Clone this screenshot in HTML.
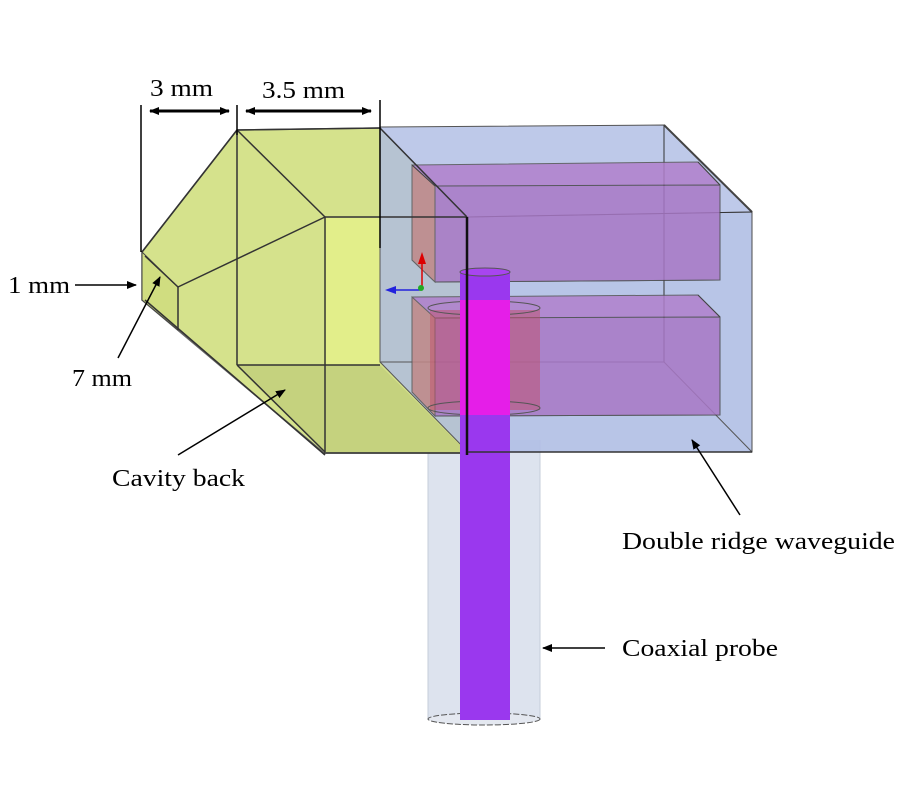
<!DOCTYPE html>
<html><head><meta charset="utf-8"><style>html,body{margin:0;padding:0;background:#fff}svg{display:block}</style></head>
<body>
<svg width="900" height="800" viewBox="0 0 900 800" xmlns="http://www.w3.org/2000/svg" font-family="Liberation Serif, serif" font-size="24">
<defs>
<marker id="ah" markerWidth="10" markerHeight="10" refX="9" refY="5" orient="auto" markerUnits="userSpaceOnUse"><path d="M0,1 L10,5 L0,9 Z" fill="#000"/></marker>
<marker id="ah2" markerWidth="10" markerHeight="10" refX="1" refY="5" orient="auto" markerUnits="userSpaceOnUse"><path d="M10,1 L0,5 L10,9 Z" fill="#000"/></marker>
</defs>
<rect width="900" height="800" fill="#fff"/>
<rect x="428" y="440" width="112" height="280" fill="#dde3ee"/>
<line x1="428" y1="440" x2="428" y2="720" stroke="#c5ccda"/>
<line x1="540" y1="440" x2="540" y2="720" stroke="#c5ccda"/>
<ellipse cx="484" cy="719" rx="56" ry="6" fill="#e4e8f0" stroke="#555" stroke-dasharray="6,2"/>
<polygon points="142,252 237,130 380,128 467,217 467,453 324,453 142,300" fill="#d5e28c" stroke="#666" stroke-width="1.5"/>
<polygon points="324,218 380,218 380,452 324,452" fill="#e2ee8a"/>
<polygon points="237,365 380,365 467,452 324,452" fill="#c5d27e"/>
<polygon points="142,252 178,287 178,330 142,300" fill="#d0dd80" stroke="#444"/>
<polygon points="380,127 664,125 752,212 752,452 468,452 380,362" fill="#aebce4" stroke="#555" fill-opacity="0.8"/>
<polygon points="468,217 752,212 752,452 468,452" fill="#b4c2e6" stroke="#444" opacity="0.5"/>
<line x1="664" y1="125" x2="664" y2="362" stroke="#333"/>
<line x1="380" y1="362" x2="664" y2="362" stroke="#555"/>
<line x1="664" y1="362" x2="752" y2="452" stroke="#555"/>
<line x1="664" y1="125" x2="752" y2="212" stroke="#444" stroke-width="2"/>
<line x1="468" y1="217" x2="752" y2="212" stroke="#333"/>
<g opacity="0.85">
<polygon points="412,165 698,162 720,185 720,280 435,282 412,260" fill="#b080cc" stroke="#555"/>
<polygon points="435,186 720,185 720,280 435,282" fill="#a878c6" stroke="#444"/>
<polygon points="412,165 435,186 435,282 412,260" fill="#c08888" stroke="#555"/>
</g>
<line x1="412" y1="165" x2="435" y2="186" stroke="#444"/>
<line x1="698" y1="162" x2="720" y2="185" stroke="#444"/>
<g opacity="0.85">
<polygon points="412,297 698,295 720,317 720,415 435,416 412,392" fill="#b080cc" stroke="#555"/>
<polygon points="435,318 720,317 720,415 435,416" fill="#a878c6" stroke="#444"/>
<polygon points="412,297 435,318 435,416 412,392" fill="#c08888" stroke="#555"/>
</g>
<line x1="698" y1="295" x2="720" y2="317" stroke="#444"/>
<rect x="430" y="310" width="110" height="100" fill="#c0506a" opacity="0.5"/>
<ellipse cx="484" cy="308" rx="56" ry="7" fill="none" stroke="#555"/>
<ellipse cx="484" cy="408" rx="56" ry="7" fill="none" stroke="#555"/>
<g stroke="#333" stroke-width="1.5" fill="none">
<line x1="237" y1="130" x2="237" y2="365"/>
<line x1="237" y1="130" x2="325" y2="217"/>
<line x1="325" y1="217" x2="467" y2="217"/>
<line x1="325" y1="217" x2="325" y2="452"/>
<line x1="237" y1="365" x2="380" y2="365"/>
<line x1="237" y1="365" x2="325" y2="452"/>
<line x1="178" y1="287" x2="325" y2="217"/>
<line x1="145" y1="256" x2="178" y2="287"/>
<line x1="178" y1="287" x2="178" y2="330"/>
<line x1="145" y1="300" x2="325" y2="455"/>
<line x1="324" y1="453" x2="467" y2="453"/>
<line x1="380" y1="128" x2="467" y2="217"/>
<line x1="142" y1="252" x2="237" y2="130"/>
<line x1="237" y1="130" x2="380" y2="128"/>
</g>
<rect x="460" y="272" width="50" height="448" fill="#9a38ee"/>
<rect x="460" y="300" width="50" height="115" fill="#e51ee8"/>
<ellipse cx="485" cy="272" rx="25" ry="4" fill="#a845f0" stroke="#555"/>
<line x1="467" y1="217" x2="467" y2="455" stroke="#111" stroke-width="2.5"/>
<line x1="468" y1="452" x2="752" y2="452" stroke="#333" stroke-width="1.5"/>
<line x1="422" y1="290" x2="422" y2="262" stroke="#d00" stroke-width="1.5"/>
<path d="M418,264 L422,252 L426,264 Z" fill="#d00"/>
<line x1="420" y1="290" x2="394" y2="290" stroke="#22d" stroke-width="1.5"/>
<path d="M396,286 L385,290 L396,294 Z" fill="#22d"/>
<circle cx="421" cy="288" r="3" fill="#2a2"/>
<g stroke="#000" stroke-width="1.5">
<line x1="141" y1="105" x2="141" y2="252"/>
<line x1="237" y1="105" x2="237" y2="135"/>
<line x1="380" y1="100" x2="380" y2="248"/>
<line x1="150" y1="111" x2="229" y2="111" stroke-width="3" marker-start="url(#ah2)" marker-end="url(#ah)"/>
<line x1="246" y1="111" x2="371" y2="111" stroke-width="3" marker-start="url(#ah2)" marker-end="url(#ah)"/>
<line x1="75" y1="285" x2="136" y2="285" marker-end="url(#ah)"/>
<line x1="118" y1="358" x2="160" y2="277" marker-end="url(#ah)"/>
<line x1="178" y1="455" x2="285" y2="390" marker-end="url(#ah)"/>
<line x1="740" y1="515" x2="692" y2="440" marker-end="url(#ah)"/>
<line x1="605" y1="648" x2="543" y2="648" marker-end="url(#ah)"/>
</g>
<text x="150" y="96" textLength="63" lengthAdjust="spacingAndGlyphs">3 mm</text>
<text x="262" y="98" textLength="83" lengthAdjust="spacingAndGlyphs">3.5 mm</text>
<text x="8" y="293" textLength="62" lengthAdjust="spacingAndGlyphs">1 mm</text>
<text x="72" y="386" textLength="60" lengthAdjust="spacingAndGlyphs">7 mm</text>
<text x="112" y="486" textLength="133" lengthAdjust="spacingAndGlyphs">Cavity back</text>
<text x="622" y="549" textLength="273" lengthAdjust="spacingAndGlyphs">Double ridge waveguide</text>
<text x="622" y="656" textLength="156" lengthAdjust="spacingAndGlyphs">Coaxial probe</text>
</svg>
</body></html>
